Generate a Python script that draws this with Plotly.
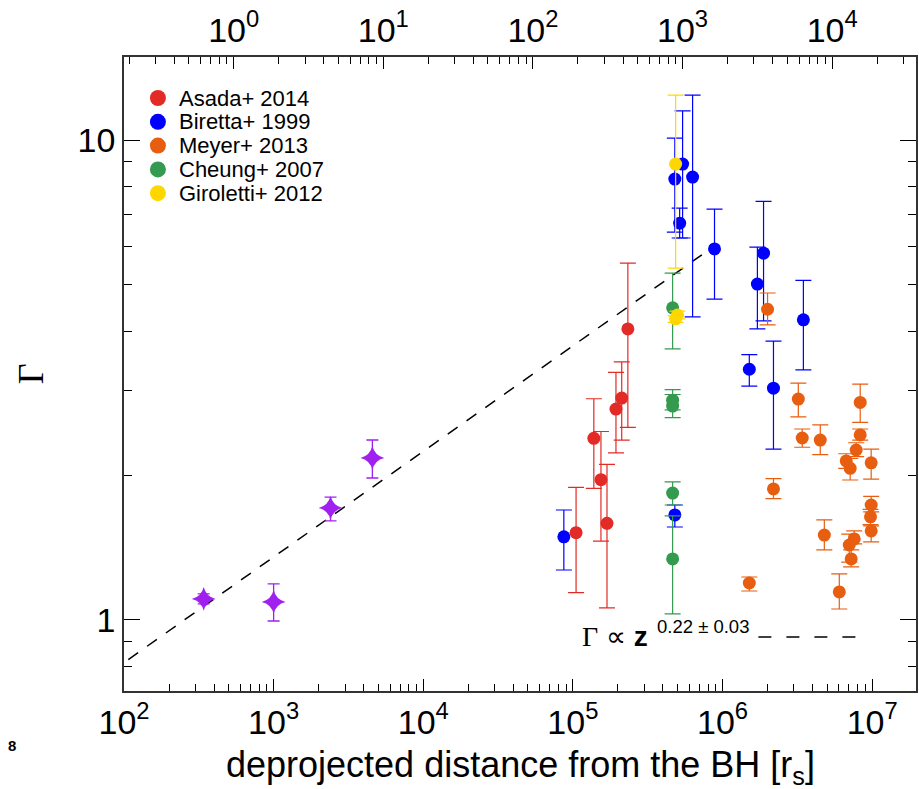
import plotly.graph_objects as go

# ---------------- data ----------------
# Purple stars (no legend entry)
star_z = [341, 1000, 2400, 4570]
star_g = [1.106, 1.09, 1.711, 2.175]
star_hi = [1.133, 1.189, 1.803, 2.371]
star_lo = [1.080, 0.995, 1.608, 1.976]

# Asada+ 2014
asada_z = [1.05e5, 1.38e5, 1.54e5, 1.69e5, 1.94e5, 2.12e5, 2.33e5]
asada_g = [1.52, 2.39, 1.96, 1.59, 2.75, 2.90, 4.04]
asada_hi = [1.89, 2.89, 2.47, 2.11, 3.28, 3.45, 5.54]
asada_lo = [1.14, 1.88, 1.46, 1.06, 2.23, 2.37, 2.52]

# Biretta+ 1999
biretta_z = [8.7e4, 4.8e5, 4.8e5, 5.41e5, 5.17e5, 6.31e5, 8.84e5, 1.71e6, 1.88e6, 3.47e6, 1.51e6, 2.19e6]
biretta_g = [1.49, 1.655, 8.29, 8.91, 6.71, 8.37, 5.93, 5.01, 5.81, 4.22, 3.33, 3.04]
biretta_hi = [1.695, 1.736, 10.09, 11.5, 7.21, 12.4, 7.18, 5.98, 7.45, 5.10, 3.57, 3.81]
biretta_lo = [1.271, 1.562, 6.43, 6.25, 6.25, 4.28, 4.66, 4.04, 4.20, 3.32, 3.07, 2.27]

# Meyer+ 2013
meyer_z = [2.0e6, 3.21e6, 3.41e6, 4.5e6, 2.19e6, 4.79e6, 1.51e6, 6.03e6, 8.32e6, 8.32e6,
           7.82e6, 6.71e6, 7.13e6, 9.85e6, 9.85e6, 9.75e6, 9.85e6, 7.59e6, 7.03e6, 7.24e6]
meyer_g = [4.44, 2.886, 2.394, 2.37, 1.875, 1.503, 1.194, 1.144, 2.84, 2.43,
           2.26, 2.145, 2.07, 2.125, 1.736, 1.64, 1.533, 1.475, 1.433, 1.34]
meyer_hi = [4.80, 3.115, 2.50, 2.55, 1.97, 1.616, 1.229, 1.247, 3.10, 2.50,
            2.34, 2.22, 2.17, 2.27, 1.81, 1.70, 1.57, 1.533, 1.51, 1.40]
meyer_lo = [4.12, 2.65, 2.29, 2.21, 1.79, 1.40, 1.149, 1.054, 2.58, 2.37,
            2.19, 2.07, 1.957, 1.966, 1.68, 1.58, 1.454, 1.44, 1.32, 1.29]

# Cheung+ 2007
cheung_z = [4.64e5, 4.64e5, 4.64e5, 4.64e5, 4.64e5]
cheung_g = [4.47, 2.87, 2.79, 1.838, 1.34]
cheung_hi = [5.28, 3.02, 2.95, 1.94, 1.647]
cheung_lo = [3.67, 2.74, 2.64, 1.736, 1.03]

# Giroletti+ 2012
giroletti_z = [4.86e5, 5.0e5, 4.86e5]
giroletti_g = [8.91, 4.32, 4.24]
giroletti_hi = [12.4, 4.40, 4.30]
giroletti_lo = [5.41, 4.24, 4.17]

# Power-law fit  Gamma = A * z^p
fit_norm = 0.296
fit_index = 0.22
fit_z = [80, 8.8e5]

bottom_ticks = [1e2, 1e3, 1e4, 1e5, 1e6, 1e7]
bottom_ticktext = ["10<sup>2</sup>", "10<sup>3</sup>", "10<sup>4</sup>", "10<sup>5</sup>",
                   "10<sup>6</sup>", "10<sup>7</sup>"]
top_ticks = [1, 10, 100, 1e3, 1e4]
top_ticktext = ["10<sup>0</sup>", "10<sup>1</sup>", "10<sup>2</sup>", "10<sup>3</sup>", "10<sup>4</sup>"]
y_ticks = [1, 10]
y_ticktext = ["1", "10"]
top_offset_dex = 2.733  # log10(bottom unit / top unit)

# ---------------- figure ----------------
FONT = "Liberation Sans, Arial, sans-serif"
SERIF = "Liberation Serif, Times New Roman, serif"
W, H = 919, 789
ML, MR, MT, MB = 124, 1, 57, 98
PW, PH = W - ML - MR, H - MT - MB


def px(x):  # pixel -> paper x (layout helper)
    return (x - ML) / PW


def py(y):  # pixel -> paper y (layout helper)
    return (H - MB - y) / PH


def errs(g, hi, lo):
    return [h - v for h, v in zip(hi, g)], [v - l for v, l in zip(g, lo)]


fig = go.Figure()

fit_g = [fit_norm * z ** fit_index for z in fit_z]
fig.add_trace(go.Scatter(x=fit_z, y=fit_g, mode="lines", showlegend=False,
                         line=dict(color="black", width=1.5, dash="12px,11px"),
                         hoverinfo="skip"))

up, dn = errs(star_g, star_hi, star_lo)
fig.add_trace(go.Scatter(
    x=star_z, y=star_g, mode="markers", showlegend=False,
    marker=dict(symbol="star-diamond", size=17, color="#a020f0", line=dict(width=0)),
    error_y=dict(type="data", array=up, arrayminus=dn, color="#a020f0", thickness=1.3, width=6)))

series = [
    ("Asada+ 2014", asada_z, asada_g, asada_hi, asada_lo, "#e22b26"),
    ("Biretta+ 1999", biretta_z, biretta_g, biretta_hi, biretta_lo, "#0000ff"),
    ("Meyer+ 2013", meyer_z, meyer_g, meyer_hi, meyer_lo, "#e85e10"),
    ("Cheung+ 2007", cheung_z, cheung_g, cheung_hi, cheung_lo, "#349a4f"),
    ("Giroletti+ 2012", giroletti_z, giroletti_g, giroletti_hi, giroletti_lo, "#ffd700"),
]
for name, z, g, hi, lo, col in series:
    up, dn = errs(g, hi, lo)
    fig.add_trace(go.Scatter(
        x=z, y=g, mode="markers", name=name, showlegend=False,
        marker=dict(symbol="circle", size=13, color=col, line=dict(width=0)),
        error_y=dict(type="data", array=up, arrayminus=dn, color=col, thickness=1.2, width=8)))

# empty trace so that the top (secondary) x axis is drawn
fig.add_trace(go.Scatter(x=[], y=[], xaxis="x2", yaxis="y", showlegend=False, hoverinfo="skip"))

axis_common = dict(
    type="log", showgrid=False, zeroline=False, showline=True, linecolor="#333333",
    linewidth=1.5, ticks="inside", tickcolor="black", tickwidth=1,
    tickfont=dict(family=FONT, size=34, color="black"),
)
x_minor = [m * 10 ** k for k in range(2, 8) for m in range(2, 10)]
top_minor = [m * 10 ** k for k in range(-1, 5) for m in range(2, 10)]
y_minor = [0.8, 0.9, 2, 3, 4, 5, 6, 7, 8, 9]

fig.update_layout(
    width=W, height=H,
    margin=dict(l=ML, r=MR, t=MT, b=MB),
    paper_bgcolor="white", plot_bgcolor="white",
    font=dict(family=FONT, color="black"),
    showlegend=False,
    xaxis=dict(**axis_common, range=[2, 7.293], tickmode="array", tickvals=bottom_ticks,
               ticktext=bottom_ticktext, ticklen=12, mirror=False,
               minor=dict(tickmode="array", tickvals=x_minor, ticks="inside", ticklen=7,
                          tickcolor="black", tickwidth=1, showgrid=False)),
    xaxis2=dict(**axis_common, overlaying="x", side="top", anchor="y",
                range=[2 - top_offset_dex, 7.293 - top_offset_dex], autorange=False,
                tickmode="array", tickvals=top_ticks, ticktext=top_ticktext, ticklen=12,
                minor=dict(tickmode="array", tickvals=top_minor, ticks="inside", ticklen=7,
                           tickcolor="black", tickwidth=1, showgrid=False)),
    yaxis=dict(**axis_common, range=[-0.148, 1.173], tickmode="array", tickvals=y_ticks,
               ticktext=y_ticktext, ticklen=16, mirror="ticks",
               minor=dict(tickmode="array", tickvals=y_minor, ticks="inside", ticklen=8,
                          tickcolor="black", tickwidth=1, showgrid=False)),
)

# legend (drawn as real text + symbol shapes)
leg_x_sym, leg_x_txt = 158, 177
leg_y0, leg_dy = 98, 23.8
for i, (name, z, g, hi, lo, col) in enumerate(series):
    yy = py(leg_y0 + i * leg_dy)
    fig.add_shape(type="circle", xref="paper", yref="paper", xsizemode="pixel", ysizemode="pixel",
                  xanchor=px(leg_x_sym), yanchor=yy, x0=-8, x1=8, y0=-8, y1=8,
                  fillcolor=col, line=dict(width=0))
    fig.add_annotation(xref="paper", yref="paper", x=px(leg_x_txt), y=yy, xanchor="left",
                       yanchor="middle", text=name, showarrow=False,
                       font=dict(family=FONT, size=22, color="black"))

# y-axis title (rotated Gamma, serif)
fig.add_annotation(xref="paper", yref="paper", x=px(31), y=0.5, xanchor="center", yanchor="middle",
                   text="Γ", textangle=-90, showarrow=False,
                   font=dict(family=SERIF, size=36, color="black"))
# x-axis title
fig.add_annotation(xref="paper", yref="paper", x=0.5, y=py(767), xanchor="center", yanchor="middle",
                   text="deprojected distance from the BH [r<sub>s</sub>]", showarrow=False,
                   font=dict(family=FONT, size=36, color="black"))
# fit label
fig.add_annotation(xref="paper", yref="paper", x=px(581), y=py(636), xanchor="left", yanchor="middle",
                   text='<span style="font-family:Liberation Serif">Γ</span> ∝ <b>z</b>',
                   showarrow=False, font=dict(family=FONT, size=28, color="black"))
fig.add_annotation(xref="paper", yref="paper", x=px(656), y=py(626), xanchor="left", yanchor="middle",
                   text="0.22 ± 0.03", showarrow=False, font=dict(family=FONT, size=18.5, color="black"))
fig.add_shape(type="line", xref="paper", yref="paper", x0=px(760), x1=px(858), y0=py(637), y1=py(637),
              line=dict(color="black", width=1.5, dash="13px,15px"))
# stray fragment at lower-left
fig.add_annotation(xref="paper", yref="paper", x=px(12), y=py(745), xanchor="center", yanchor="middle",
                   text="<b>8</b>", showarrow=False, font=dict(family=FONT, size=15, color="black"))

fig.write_html("out.html", config={"displayModeBar": False})
